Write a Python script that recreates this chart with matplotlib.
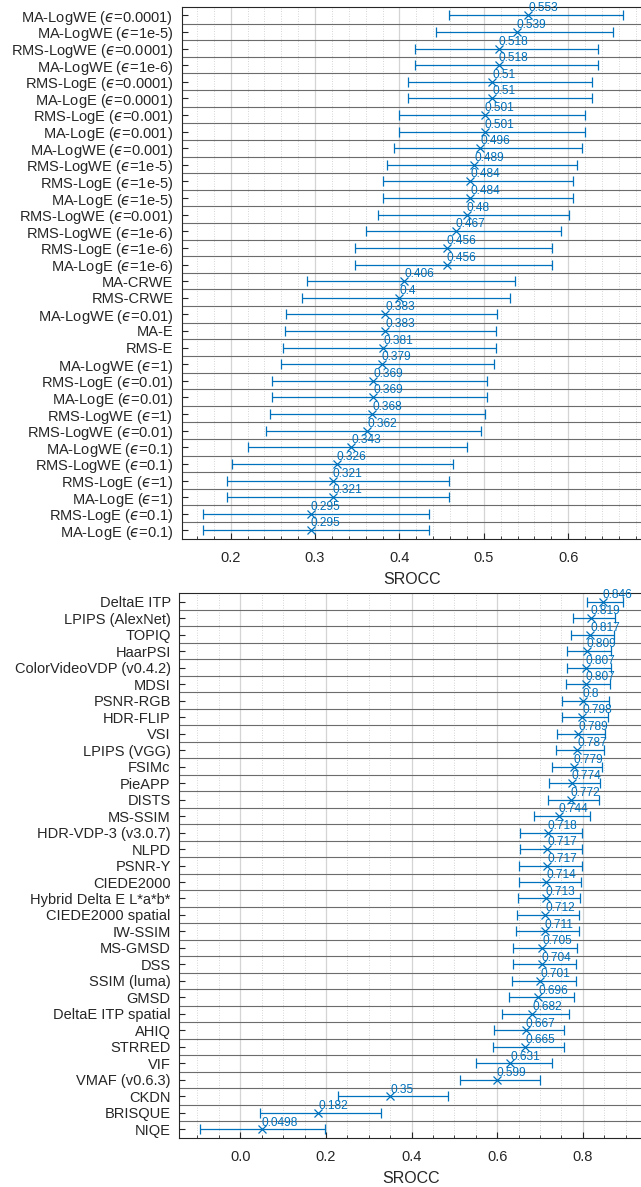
import numpy as np
import matplotlib
matplotlib.use("Agg")
import matplotlib.pyplot as plt
from matplotlib.ticker import MultipleLocator

plt.rcParams["font.family"] = ["Liberation Sans", "DejaVu Sans"]
plt.rcParams["mathtext.fontset"] = "dejavusans"

BLUE = "#0072BD"
AXC = "#262626"
EPS = "$\u03f5$"

# --- top panel: error metrics ---
top_names = [
    ("MA-LogWE", "0.0001"), ("MA-LogWE", "1e-5"), ("RMS-LogWE", "0.0001"),
    ("MA-LogWE", "1e-6"), ("RMS-LogE", "0.0001"), ("MA-LogE", "0.0001"),
    ("RMS-LogE", "0.001"), ("MA-LogE", "0.001"), ("MA-LogWE", "0.001"),
    ("RMS-LogWE", "1e-5"), ("RMS-LogE", "1e-5"), ("MA-LogE", "1e-5"),
    ("RMS-LogWE", "0.001"), ("RMS-LogWE", "1e-6"), ("RMS-LogE", "1e-6"),
    ("MA-LogE", "1e-6"), ("MA-CRWE", None), ("RMS-CRWE", None),
    ("MA-LogWE", "0.01"), ("MA-E", None), ("RMS-E", None), ("MA-LogWE", "1"),
    ("RMS-LogE", "0.01"), ("MA-LogE", "0.01"), ("RMS-LogWE", "1"),
    ("RMS-LogWE", "0.01"), ("MA-LogWE", "0.1"), ("RMS-LogWE", "0.1"),
    ("RMS-LogE", "1"), ("MA-LogE", "1"), ("RMS-LogE", "0.1"), ("MA-LogE", "0.1"),
]
top_labels = [n if e is None else "%s (%s=%s)" % (n, EPS, e) for n, e in top_names]
top_srocc = [0.553, 0.539, 0.518, 0.518, 0.51, 0.51, 0.501, 0.501, 0.496, 0.489,
             0.484, 0.484, 0.48, 0.467, 0.456, 0.456, 0.406, 0.4, 0.383, 0.383,
             0.381, 0.379, 0.369, 0.369, 0.368, 0.362, 0.343, 0.326, 0.321, 0.321,
             0.295, 0.295]
top_lo = [0.459, 0.443, 0.419, 0.419, 0.410, 0.410, 0.399, 0.399, 0.394, 0.385,
          0.380, 0.380, 0.375, 0.360, 0.347, 0.347, 0.291, 0.284, 0.265, 0.264,
          0.262, 0.260, 0.249, 0.249, 0.247, 0.242, 0.220, 0.201, 0.196, 0.196,
          0.167, 0.167]
top_hi = [0.665, 0.653, 0.635, 0.635, 0.628, 0.628, 0.620, 0.620, 0.616, 0.610,
          0.606, 0.606, 0.601, 0.591, 0.581, 0.581, 0.537, 0.531, 0.516, 0.515,
          0.514, 0.512, 0.504, 0.504, 0.502, 0.497, 0.480, 0.464, 0.459, 0.459,
          0.435, 0.435]

# --- bottom panel: quality metrics ---
bot_labels = [
    "DeltaE ITP", "LPIPS (AlexNet)", "TOPIQ", "HaarPSI", "ColorVideoVDP (v0.4.2)",
    "MDSI", "PSNR-RGB", "HDR-FLIP", "VSI", "LPIPS (VGG)", "FSIMc", "PieAPP",
    "DISTS", "MS-SSIM", "HDR-VDP-3 (v3.0.7)", "NLPD", "PSNR-Y", "CIEDE2000",
    "Hybrid Delta E L*a*b*", "CIEDE2000 spatial", "IW-SSIM", "MS-GMSD", "DSS",
    "SSIM (luma)", "GMSD", "DeltaE ITP spatial", "AHIQ", "STRRED", "VIF",
    "VMAF (v0.6.3)", "CKDN", "BRISQUE", "NIQE",
]
bot_srocc = [0.846, 0.819, 0.817, 0.809, 0.807, 0.807, 0.8, 0.798, 0.789, 0.787,
             0.779, 0.774, 0.772, 0.744, 0.718, 0.717, 0.717, 0.714, 0.713, 0.712,
             0.711, 0.705, 0.704, 0.701, 0.696, 0.682, 0.667, 0.665, 0.631, 0.599,
             0.35, 0.182, 0.0498]
bot_lo = [0.809, 0.776, 0.773, 0.763, 0.762, 0.761, 0.752, 0.751, 0.739, 0.737,
          0.728, 0.721, 0.719, 0.685, 0.653, 0.653, 0.652, 0.650, 0.648, 0.647,
          0.645, 0.638, 0.636, 0.634, 0.627, 0.611, 0.593, 0.591, 0.551, 0.513,
          0.228, 0.045, -0.093]
bot_hi = [0.893, 0.874, 0.872, 0.866, 0.865, 0.864, 0.860, 0.858, 0.851, 0.849,
          0.844, 0.840, 0.837, 0.817, 0.798, 0.797, 0.797, 0.795, 0.793, 0.791,
          0.791, 0.787, 0.785, 0.784, 0.780, 0.768, 0.756, 0.755, 0.728, 0.701,
          0.485, 0.328, 0.199]


def draw(ax, labels, vals, lo, hi, xlim, major, minor):
    n = len(labels)
    y = np.arange(n)
    vals = np.asarray(vals)
    err = [vals - np.asarray(lo), np.asarray(hi) - vals]
    ax.set_xlim(*xlim)
    ax.set_ylim(n - 0.5, -0.5)
    ax.xaxis.set_major_locator(MultipleLocator(major))
    ax.xaxis.set_minor_locator(MultipleLocator(minor))
    ax.grid(True, axis="x", which="major", color="#d4d4d4", lw=0.9)
    ax.grid(True, axis="x", which="minor", color="#c8c8c8", lw=0.6, ls=(0, (1, 2)))
    ax.set_axisbelow(True)
    for k in range(1, n):
        ax.axhline(k - 0.5, color="#6c6c6c", lw=0.8, zorder=1)
    ax.errorbar(vals, y, xerr=err, fmt="x", color=BLUE, ms=5.5, mew=0.9,
                elinewidth=0.9, capsize=3.6, capthick=0.9, zorder=3)
    for v, yy in zip(vals, y):
        ax.text(v, yy - 0.42, "%.3g" % v, color=BLUE, fontsize=8.6,
                ha="left", va="center", zorder=4)
    ax.set_yticks(y)
    ax.set_yticklabels(labels, fontsize=10.5, color=AXC)
    ax.tick_params(axis="both", which="both", direction="in", colors=AXC,
                   top=False, right=False)
    ax.tick_params(axis="x", which="major", length=4, labelsize=10.5, pad=9)
    ax.tick_params(axis="x", which="minor", length=2)
    ax.tick_params(axis="y", length=4, pad=6)
    for sp in ax.spines.values():
        sp.set_color(AXC)
        sp.set_linewidth(0.8)
    ax.set_xlabel("SROCC", fontsize=11.5, color=AXC, labelpad=5)


fig = plt.figure(figsize=(6.41, 11.87), dpi=100, facecolor="white")
ax1 = fig.add_axes([0.2835, 0.5462, 0.7200, 0.4479])
ax2 = fig.add_axes([0.2793, 0.0415, 0.7242, 0.4587])
draw(ax1, top_labels, top_srocc, top_lo, top_hi, (0.142, 0.689), 0.1, 0.02)
draw(ax2, bot_labels, bot_srocc, bot_lo, bot_hi, (-0.143, 0.941), 0.2, 0.05)

fig.savefig("out.png", dpi=100, facecolor="white")
